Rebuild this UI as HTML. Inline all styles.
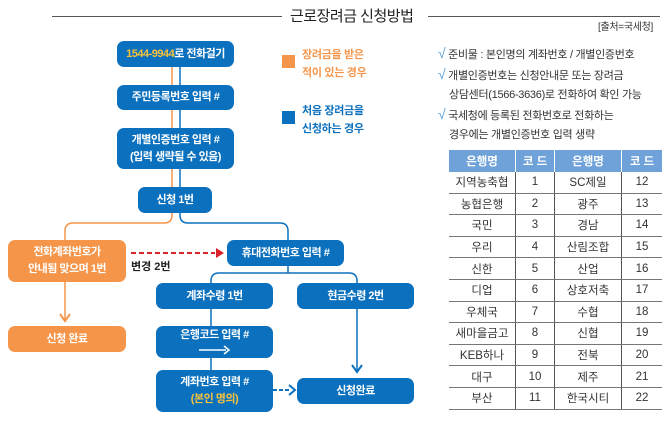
<!DOCTYPE html>
<html><head><meta charset="utf-8"><style>
body{margin:0;width:670px;height:427px;background:#fff;position:relative;overflow:hidden;font-family:"Liberation Sans","Noto Sans CJK KR",sans-serif;}
.b{position:absolute;background:#0b70bd;color:#fff;border-radius:7px;display:flex;align-items:center;justify-content:center;text-align:center;font-size:11px;font-weight:bold;line-height:17px;letter-spacing:-0.5px}
.o{background:#f5954a}
.t{position:absolute;font-size:11px;line-height:18px;color:#333;letter-spacing:-0.3px}
table{position:absolute;left:449px;top:150px;border-collapse:collapse;font-size:11.5px;color:#333}
td,th{height:20.6px;padding:0;text-align:center;border-bottom:1px solid #777;border-left:1px solid #555}
th{background:#6fa2d8;color:#fff;border-left:1px solid #fff;border-bottom:none;height:22px}
tr td:first-child,tr th:first-child{border-left:none}
.ck{color:#5aa0d8;font-size:14px}
</style></head><body>
<div style="position:absolute;left:52px;top:16px;width:230px;height:1px;background:#555"></div>
<div style="position:absolute;left:290px;top:5px;font-size:15px;color:#222;letter-spacing:-0.5px">근로장려금 신청방법</div>
<div style="position:absolute;left:428px;top:16px;width:232px;height:1px;background:#555"></div>
<div class="t" style="left:598px;top:19px;font-size:10px">[출처=국세청]</div>

<svg width="670" height="427" style="position:absolute;left:0;top:0">
<g fill="none" stroke-width="1.5">
<path d="M172 60V215q0 8-8 8H73q-8 0-8 8V320" stroke="#f5954a"/>
<path d="M180 60V215q0 8 8 8H280q8 0 8 8V245" stroke="#0b70bd"/>
<path d="M288 262V273M219 273H349q8 0 8 8V290M219 273q-8 0-8 8V390M357 300V370" stroke="#0b70bd"/>
<path d="M131 253H215" stroke="#d8232a" stroke-width="2" stroke-dasharray="5,3"/>
<path d="M273 390H290" stroke="#0b70bd" stroke-width="2" stroke-dasharray="4,2"/>
</g>
<path d="M216 248L224 253L216 258Z" fill="#d8232a"/>
<path d="M60 314L65 321L70 314" stroke="#f5954a" stroke-width="2" fill="none"/>
<path d="M352 365L357 372L362 365" stroke="#0b70bd" stroke-width="2" fill="none"/>
<path d="M289 385L295 390L289 395" stroke="#0b70bd" stroke-width="2" fill="none"/>
</svg>

<div class="b" style="left:117px;top:41px;width:117px;height:26px"><div><span style="color:#f8c33c">1544-9944</span>로 전화걸기</div></div>
<div class="b" style="left:117px;top:85px;width:117px;height:25px">주민등록번호 입력 #</div>
<div class="b" style="left:117px;top:128px;width:117px;height:41px"><div>개별인증번호 입력 #<br>(입력 생략될 수 있음)</div></div>
<div class="b" style="left:138px;top:187px;width:74px;height:26px">신청 1번</div>
<div class="b o" style="left:8px;top:240px;width:118px;height:42px"><div>전화계좌번호가<br>안내됨 맞으며 1번</div></div>
<div class="b o" style="left:8px;top:326px;width:118px;height:26px">신청 완료</div>
<div class="b" style="left:227px;top:240px;width:117px;height:26px">휴대전화번호 입력 #</div>
<div class="b" style="left:156px;top:283px;width:117px;height:26px">계좌수령 1번</div>
<div class="b" style="left:297px;top:283px;width:117px;height:26px">현금수령 2번</div>
<div class="b" style="left:156px;top:326px;width:117px;height:32px;align-items:flex-start;padding-top:1px;box-sizing:border-box">은행코드 입력 #</div>
<svg style="position:absolute;left:198px;top:345px" width="34" height="10"><path d="M1 5H28" stroke="#fff" stroke-width="1.5"/><path d="M26 1L31 5L26 9" stroke="#fff" stroke-width="1.5" fill="none"/></svg>
<div class="b" style="left:156px;top:370px;width:117px;height:42px"><div>계좌번호 입력 #<br><span style="color:#f8c33c">(본인 명의)</span></div></div>
<div class="b" style="left:297px;top:378px;width:117px;height:26px">신청완료</div>
<div style="position:absolute;left:131px;top:258px;font-size:11px;font-weight:bold;color:#222">변경 2번</div>

<div style="position:absolute;left:282px;top:55px;width:13px;height:13px;background:#f5954a"></div>
<div class="t" style="left:302px;top:46px;color:#f5954a;font-weight:bold;line-height:18px">장려금을 받은<br>적이 있는 경우</div>
<div style="position:absolute;left:282px;top:111px;width:13px;height:13px;background:#0b70bd"></div>
<div class="t" style="left:302px;top:102px;color:#0b70bd;font-weight:bold;line-height:18px">처음 장려금을<br>신청하는 경우</div>

<div class="t" style="left:438px;top:44px;line-height:19px"><span class="ck">√</span> 준비물 : 본인명의 계좌번호 / 개별인증번호<br><span class="ck">√</span> 개별인증번호는 신청안내문 또는 장려금<br>&nbsp;&nbsp;&nbsp;&nbsp;상담센터(1566-3636)로 전화하여 확인 가능<br><span class="ck">√</span> 국세청에 등록된 전화번호로 전화하는<br>&nbsp;&nbsp;&nbsp;&nbsp;경우에는 개별인증번호 입력 생략</div>

<table>
<tr><th style="width:66px">은행명</th><th style="width:38px">코 드</th><th style="width:66px">은행명</th><th style="width:40px">코 드</th></tr>
<tr><td>지역농축협</td><td>1</td><td>SC제일</td><td>12</td></tr>
<tr><td>농협은행</td><td>2</td><td>광주</td><td>13</td></tr>
<tr><td>국민</td><td>3</td><td>경남</td><td>14</td></tr>
<tr><td>우리</td><td>4</td><td>산림조합</td><td>15</td></tr>
<tr><td>신한</td><td>5</td><td>산업</td><td>16</td></tr>
<tr><td>디업</td><td>6</td><td>상호저축</td><td>17</td></tr>
<tr><td>우체국</td><td>7</td><td>수협</td><td>18</td></tr>
<tr><td>새마을금고</td><td>8</td><td>신협</td><td>19</td></tr>
<tr><td>KEB하나</td><td>9</td><td>전북</td><td>20</td></tr>
<tr><td>대구</td><td>10</td><td>제주</td><td>21</td></tr>
<tr><td>부산</td><td>11</td><td>한국시티</td><td>22</td></tr>
</table>
</body></html>
